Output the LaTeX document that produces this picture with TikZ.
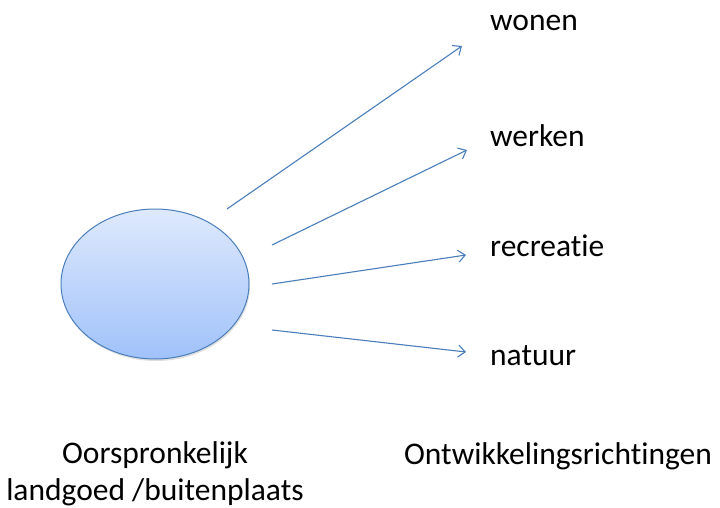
\documentclass[tikz,border=0pt]{standalone}
\usepackage{fontspec}
\setmainfont[Ligatures=NoCommon]{Carlito}
\usetikzlibrary{shapes.geometric,shadows,arrows.meta}
\definecolor{lineblue}{RGB}{74,126,187}
\definecolor{filltop}{RGB}{222,233,252}
\definecolor{fillbot}{RGB}{160,194,250}
\tikzset{
	lbl/.style={font=\fontsize{31.5}{37}\selectfont, inner sep=0pt},
	pijl/.style={draw=lineblue, line width=1.1pt, ->, >={Straight Barb[length=7pt,width=12pt]}}
}
\begin{document}
\begin{tikzpicture}[x=1pt,y=-1pt]
		\useasboundingbox (0,0) rectangle (720,508);
		% Draw landgoed
		\node (landgoed) [ellipse, minimum width=188, minimum height=150, draw=lineblue, line width=1pt, top color=filltop, bottom color=fillbot, drop shadow={shadow xshift=1pt, shadow yshift=-2pt, opacity=0.25}] at (155,284) {};
		% Draw labels
		\node (wonen) [lbl, anchor=west] at (490,23) {wonen};
		\node (werken) [lbl, anchor=west] at (490,136) {werken};
		\node (recreatie) [lbl, anchor=west] at (490,246) {recreatie};
		\node (natuur) [lbl, anchor=west] at (490,356) {natuur};
		\node (oorspr) [lbl, align=center] at (155,474) {Oorspronkelijk\\landgoed /buitenplaats};
		\node (richting) [lbl] at (558,456) {Ontwikkelingsrichtingen};
		% Draw arrows
		\coordinate (s1) at (227,209); \coordinate (e1) at (462,46);
		\coordinate (s2) at (272,245); \coordinate (e2) at (467,150);
		\coordinate (s3) at (272,284); \coordinate (e3) at (466,255);
		\coordinate (s4) at (272,330); \coordinate (e4) at (466,352);
		\draw [pijl] (s1) -- (e1);
		\draw [pijl] (s2) -- (e2);
		\draw [pijl] (s3) -- (e3);
		\draw [pijl] (s4) -- (e4);
	\end{tikzpicture}
\end{document}
